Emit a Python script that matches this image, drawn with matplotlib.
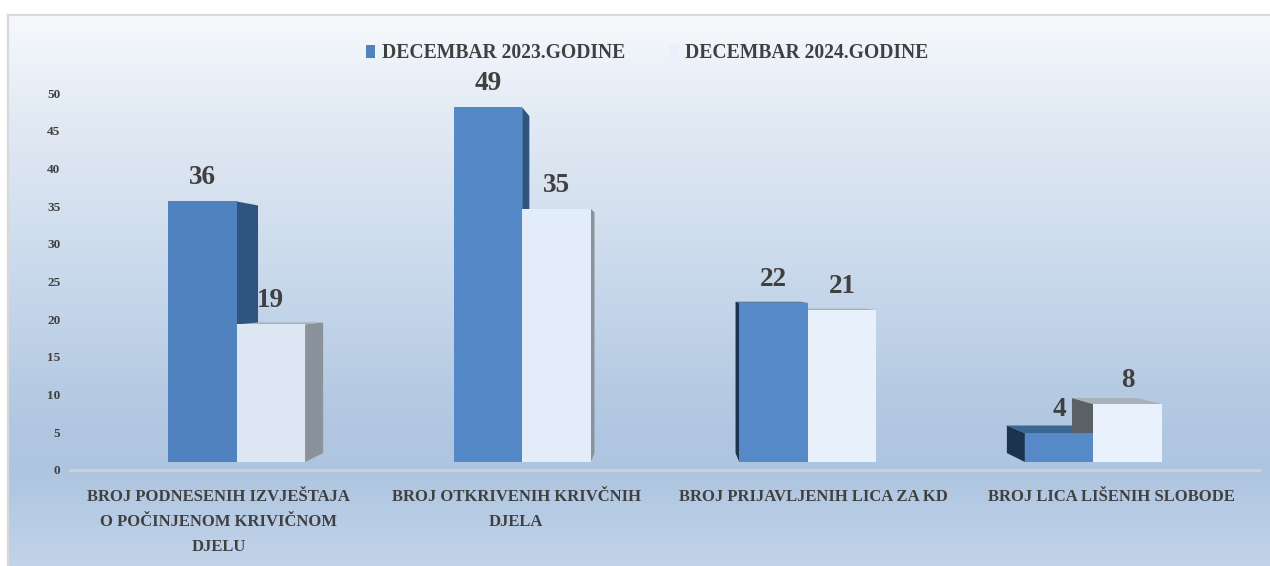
import numpy as np
import matplotlib
matplotlib.use("Agg")
import matplotlib.pyplot as plt
from matplotlib.colors import LinearSegmentedColormap
from matplotlib.patches import Patch

plt.rcParams['font.family'] = ['Liberation Serif', 'DejaVu Serif']
plt.rcParams['font.weight'] = 'bold'
plt.rcParams['text.kerning_factor'] = 0

# ---- data ----
categories = ["BROJ PODNESENIH IZVJEŠTAJA\nO POČINJENOM KRIVIČNOM\nDJELU",
              "BROJ OTKRIVENIH KRIVČNIH\nDJELA",
              "BROJ PRIJAVLJENIH LICA ZA KD",
              "BROJ LICA LIŠENIH SLOBODE"]
series_names = ["DECEMBAR 2023.GODINE", "DECEMBAR 2024.GODINE"]
values_2023 = [36, 49, 22, 4]
values_2024 = [19, 35, 21, 8]
y_ticks = [0, 5, 10, 15, 20, 25, 30, 35, 40, 45, 50]

# ---- style ----
TXT = '#404040'
BLUE_FRONT = ['#4f82bf', '#5588c6', '#5689c7', '#5689c7']
WHITE_FRONT = ['#dde7f3', '#e3edf9', '#e7f0fb', '#e9f1fc']
BLUE_DARK = '#2f5480'
BLUE_DARKEST = '#1c3350'
BLUE_TOP = '#3b6593'
GREY_RIGHT = '#8a929c'
GREY_LEFT = '#5b6066'
GREY_TOP = '#a9b1ba'
BAR_W = 0.24
FRONT_S = 0.96
BASE = 1.06          # front-plane baseline, in axis units
DEPTH_S = 0.95
VP_X, VP_Y = 2.0, 24.93

W, H = 1270, 566
fig = plt.figure(figsize=(W / 100, H / 100), dpi=100, facecolor='white')

# background panel with vertical gradient
bg = fig.add_axes([8 / W, 0, 1 - 8 / W, 1 - 15 / H])
cmap = LinearSegmentedColormap.from_list('bg', [
    (0.00, '#f6f9fc'), (0.16, '#e4ecf5'), (0.34, '#d5e1ef'), (0.52, '#c5d6ea'),
    (0.70, '#b4c9e2'), (0.83, '#aec5e0'), (1.00, '#c1d3e9')])
bg.imshow(np.linspace(0, 1, 300).reshape(-1, 1), aspect='auto', cmap=cmap, vmin=0, vmax=1)
bg.set_xticks([]); bg.set_yticks([])
for s in ['right', 'bottom']:
    bg.spines[s].set_visible(False)
for s in ['top', 'left']:
    bg.spines[s].set_color('#d9d9d9'); bg.spines[s].set_linewidth(1.6)

# main axes: x 0..4 spans the category axis, y 0..50
ax = fig.add_axes([70 / W, (H - 470) / H, (1260 - 70) / W, (470 - 93) / H])
ax.patch.set_alpha(0)
ax.set_xlim(0, 4); ax.set_ylim(0, 50)


def fx(x):
    return VP_X + (x - VP_X) * FRONT_S


def fy(v):
    return BASE + v * FRONT_S


def bx(x):
    return VP_X + (x - VP_X) * DEPTH_S


def by(y):
    return VP_Y + (y - VP_Y) * DEPTH_S


def draw_box(cx, val, col_side, col_top, z):
    """cx: left edge in category units"""
    xl, xr = fx(cx), fx(cx + BAR_W)
    y0, y1 = fy(0), fy(val)
    # side face
    xs = xr if xr < VP_X else xl
    ax.fill([xs, bx(xs), bx(xs), xs], [y0, by(y0), by(y1), y1],
            color=col_side, lw=0, zorder=z)
    # top face, visible only when below the vanishing point
    if y1 < VP_Y:
        ax.fill([xl, xr, bx(xr), bx(xl)], [y1, y1, by(y1), by(y1)],
                color=col_top, lw=0, zorder=z)
    return xl, xr - xl, y0, y1 - y0


centers = np.arange(len(categories)) + 0.5
fronts = []
for i, c in enumerate(centers):
    left_group = fx(c) < VP_X
    sb = BLUE_DARK if left_group else BLUE_DARKEST
    r1 = draw_box(c - BAR_W, values_2023[i], sb, BLUE_TOP, 2)
    r2 = draw_box(c, values_2024[i], GREY_RIGHT if left_group else GREY_LEFT, GREY_TOP, 2.5)
    fronts.append((r1, BLUE_FRONT[i], values_2023[i]))
    fronts.append((r2, WHITE_FRONT[i], values_2024[i]))

for (xl, w, y0, h), col, val in fronts:
    ax.bar(xl, h, w, bottom=y0, align='edge', color=col, lw=0, zorder=4)
    ax.annotate(str(val), (xl + w / 2, y0 + h), xytext=(0, 17), textcoords='offset points',
                ha='center', va='center', fontsize=19.5, color=TXT, zorder=6,
                annotation_clip=False)

ax.set_yticks(y_ticks)
ax.set_xticks(centers)
ax.set_xticklabels(categories, linespacing=1.72)
ax.tick_params(axis='y', length=0, pad=7, labelsize=9.5, labelcolor=TXT)
ax.tick_params(axis='x', length=0, pad=14, labelsize=12, labelcolor=TXT)
for lab in ax.get_xticklabels() + ax.get_yticklabels():
    lab.set_fontweight('bold')
for s in ['top', 'right', 'left']:
    ax.spines[s].set_visible(False)
ax.spines['bottom'].set_color('#cacfd8')
ax.spines['bottom'].set_linewidth(2.2)

handles = [Patch(color=BLUE_FRONT[0], lw=0), Patch(color=WHITE_FRONT[2], lw=0)]
fig.legend(handles, series_names, loc='center', bbox_to_anchor=(647 / W, 1 - 53.5 / H),
           ncol=2, frameon=False, labelcolor=TXT,
           handlelength=0.5, handleheight=0.65, handletextpad=0.32, columnspacing=2.25,
           borderpad=0, prop={'weight': 'bold', 'size': 14.1})

fig.savefig('out.png', dpi=100)
